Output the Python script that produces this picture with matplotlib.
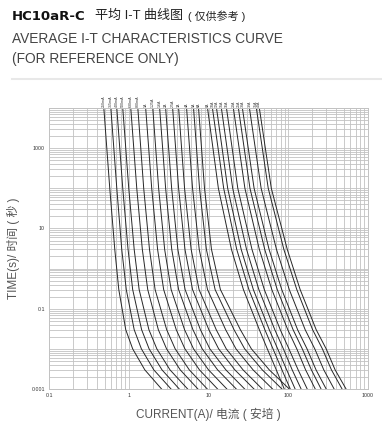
import numpy as np
import matplotlib
matplotlib.use("Agg")
import matplotlib.pyplot as plt
from matplotlib.ticker import LogLocator, NullFormatter
from matplotlib.lines import Line2D

plt.rcParams['font.family'] = ['Liberation Sans', 'Noto Sans CJK SC']

# melting time points (s) at which the curves were read
times = [10000, 100, 3, 0.3, 0.03, 0.01, 0.003, 0.001]

# low-rated fuses: current (A) at each time above
low_labels = ["250mA", "315mA", "400mA", "500mA", "630mA", "800mA",
              "1A", "1.25A", "1.6A", "2A", "2.5A", "3A", "4A", "5A", "6A"]
low_curves = [
    [0.487, 0.578, 0.668, 0.750, 0.917, 1.12, 1.59, 2.58],
    [0.596, 0.708, 0.817, 0.931, 1.17, 1.44, 2.06, 3.39],
    [0.708, 0.841, 0.980, 1.12, 1.45, 1.80, 2.61, 4.30],
    [0.841, 1.00, 1.17, 1.35, 1.79, 2.25, 3.29, 5.48],
    [1.06, 1.26, 1.48, 1.73, 2.35, 2.98, 4.42, 7.37],
    [1.30, 1.54, 1.82, 2.14, 2.99, 3.82, 5.74, 9.66],
    [1.63, 1.94, 2.30, 2.74, 3.94, 5.06, 7.70, 13.0],
    [2.00, 2.37, 2.82, 3.40, 5.01, 6.49, 10.0, 17.0],
    [2.44, 2.90, 3.46, 4.22, 6.38, 8.34, 13.0, 22.3],
    [2.90, 3.45, 4.13, 5.09, 7.92, 10.4, 16.5, 28.4],
    [3.55, 4.22, 5.07, 6.31, 10.1, 13.4, 21.4, 37.2],
    [4.22, 5.01, 6.06, 7.61, 12.5, 16.7, 27.1, 47.2],
    [5.31, 6.31, 7.65, 9.72, 16.4, 22.1, 36.2, 63.6],
    [6.49, 7.72, 9.41, 12.1, 20.9, 28.4, 47.2, 83.4],
    [7.50, 8.91, 10.9, 14.1, 25.1, 34.5, 57.8, 103],
]

# high-rated fuses
high_labels = ["8A", "10A", "12A", "15A", "16A", "20A",
               "25A", "30A", "32A", "35A", "40A"]
high_curves = [
    [9.72, 13.3, 19.4, 27.4, 43.4, 54.6, 70.8, 89.1],
    [11.2, 15.5, 22.6, 32.1, 50.9, 64.4, 83.4, 106],
    [12.6, 17.4, 25.7, 36.5, 57.8, 73.7, 95.5, 122],
    [14.5, 20.1, 30.0, 42.8, 67.8, 86.9, 112, 145],
    [16.8, 23.3, 35.1, 50.1, 79.4, 102, 133, 173],
    [20.5, 28.6, 43.4, 62.2, 98.6, 128, 165, 218],
    [23.7, 33.1, 50.7, 72.8, 115, 150, 195, 258],
    [26.6, 37.3, 57.5, 82.9, 131, 172, 223, 299],
    [32.6, 45.7, 71.2, 103, 163, 215, 279, 376],
    [39.8, 56.1, 88.1, 128, 202, 268, 348, 473],
    [43.4, 61.3, 97.2, 141, 224, 299, 387, 531],
]

x_ticks = [0.1, 1, 10, 100, 1000]
x_ticklabels = ["0.1", "1", "10", "100", "1000"]
y_ticks = [0.001, 0.01, 0.1, 1, 10, 100, 1000, 10000]
y_ticklabels = ["0.001", "", "0.1", "", "10", "", "1000", ""]

fig = plt.figure(figsize=(3.82, 4.28), dpi=100)
ax = fig.add_axes([49 / 382, 1 - 389 / 428, 319 / 382, 281 / 428])

ax.set_xscale('log')
ax.set_yscale('log')
ax.set_xlim(0.1, 1000)
ax.set_ylim(0.001, 10000)

grid_col = '#c2c2c2'
ax.set_xticks(x_ticks)
ax.set_xticklabels(x_ticklabels)
ax.set_yticks(y_ticks)
ax.set_yticklabels(y_ticklabels)
ax.xaxis.set_minor_locator(LogLocator(base=10, subs=np.arange(2, 10), numticks=100))
ax.yaxis.set_minor_locator(LogLocator(base=10, subs=np.arange(2, 10), numticks=100))
ax.xaxis.set_minor_formatter(NullFormatter())
ax.yaxis.set_minor_formatter(NullFormatter())
ax.grid(True, which='both', color=grid_col, lw=0.6)
ax.tick_params(which='both', length=0, labelsize=3.8, colors='#333333', pad=3)
for sp in ax.spines.values():
    sp.set_color(grid_col)
    sp.set_linewidth(0.7)

lab_tr = ax.get_xaxis_transform()
for labels, curves in ((low_labels, low_curves), (high_labels, high_curves)):
    for lab, cur in zip(labels, curves):
        ax.plot(cur, times, color='#262626', lw=0.7, solid_joinstyle='round')
        ax.text(cur[0], 1.004, lab, transform=lab_tr, rotation=90,
                ha='center', va='bottom', fontsize=2.6, color='#333333')

ax.set_xlabel("CURRENT(A)/ 电流 ( 安培 )", fontsize=8.5, color='#555555', labelpad=7)
ax.set_ylabel("TIME(s)/ 时间 ( 秒 )", fontsize=8.5, color='#555555', labelpad=8)

fig.text(12 / 382, 1 - 16 / 428, "HC10aR-C", family='DejaVu Sans', weight='bold',
         fontsize=9.5, color='#111111', va='center')
fig.text(95 / 382, 1 - 16 / 428, "平均 I-T 曲线图", fontsize=9.4, color='#222222', va='center')
fig.text(188 / 382, 1 - 16.5 / 428, "( 仅供参考 )", fontsize=7.9, color='#222222', va='center')
fig.text(12 / 382, 1 - 39 / 428, "AVERAGE I-T CHARACTERISTICS CURVE", fontsize=9.9,
         color='#444444', va='center')
fig.text(12 / 382, 1 - 59 / 428, "(FOR REFERENCE ONLY)", fontsize=9.9,
         color='#444444', va='center')
fig.add_artist(Line2D([12 / 382, 1], [1 - 79 / 428] * 2, color='#e8e8e8', lw=1.5))

fig.savefig("out.png", dpi=100)
